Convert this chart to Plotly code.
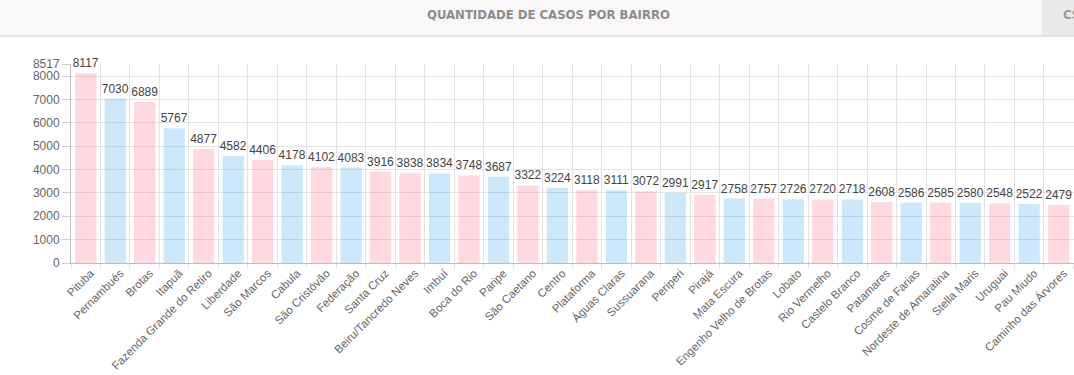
import plotly.graph_objects as go

# ---- data ----
bairros = ["Pituba", "Pernambués", "Brotas", "Itapuã", "Fazenda Grande do Retiro",
           "Liberdade", "São Marcos", "Cabula", "São Cristóvão", "Federação",
           "Santa Cruz", "Beiru/Tancredo Neves", "Imbuí", "Boca do Rio", "Paripe",
           "São Caetano", "Centro", "Plataforma", "Águas Claras", "Sussuarana",
           "Periperi", "Pirajá", "Mata Escura", "Engenho Velho de Brotas", "Lobato",
           "Rio Vermelho", "Castelo Branco", "Patamares", "Cosme de Farias",
           "Nordeste de Amaralina", "Stella Maris", "Uruguai", "Pau Miudo",
           "Caminho das Árvores"]
casos = [8117, 7030, 6889, 5767, 4877, 4582, 4406, 4178, 4102, 4083, 3916, 3838,
         3834, 3748, 3687, 3322, 3224, 3118, 3111, 3072, 2991, 2917, 2758, 2757,
         2726, 2720, 2718, 2608, 2586, 2585, 2580, 2548, 2522, 2479]
grupo = ["r", "a", "r", "a", "r", "a", "r", "a", "r", "a", "r", "r", "a", "r", "a",
         "r", "a", "r", "a", "r", "a", "r", "a", "r", "a", "r", "a", "r", "a", "r",
         "a", "r", "a", "r"]
proximo_bairro = "Piatã"
y_ticks = [0, 1000, 2000, 3000, 4000, 5000, 6000, 7000, 8000, 8517]
titulo = "QUANTIDADE DE CASOS POR BAIRRO"

# ---- style ----
W, H = 1074, 375
L, T, B = 71, 64, 112
PW, PH = W - L, H - T - B
PINK = "rgba(255,99,132,0.25)"
BLUE = "rgba(54,162,235,0.25)"
FONT = "Liberation Sans, Arial, sans-serif"
x_range = [-0.5, 33.52]
LABEL_SHIFT = 5


def px(xp):
    return (xp - L) / PW


def py(yp):
    return (T + PH - yp) / PH


cores = [PINK if g == "r" else BLUE for g in grupo]

fig = go.Figure()
fig.add_trace(go.Bar(
    x=bairros, y=casos,
    marker=dict(color=cores, line=dict(width=0)),
    texttemplate="%{y}", textposition="outside",
    textfont=dict(family=FONT, size=12, color="#444"),
    constraintext="none", cliponaxis=False,
    hoverinfo="x+y",
))

fig.update_layout(
    width=W, height=H,
    margin=dict(l=L, r=0, t=T, b=B, pad=0, autoexpand=False),
    paper_bgcolor="white", plot_bgcolor="white",
    bargap=0.28, showlegend=False,
    font=dict(family=FONT, size=12, color="#666"),
    xaxis=dict(
        type="category", range=x_range, tickson="boundaries",
        tickangle=-45, showgrid=True, gridcolor="#e3e3e3", gridwidth=1,
        ticks="outside", ticklen=5, tickcolor="#e3e3e3",
        ticklabelshift=LABEL_SHIFT, ticklabelstandoff=-2,
        showline=True, linecolor="#bdbdbd", linewidth=1,
        tickfont=dict(family=FONT, size=11.5, color="#666"),
        fixedrange=True, automargin=False,
    ),
    yaxis=dict(
        range=[0, 8517], tickvals=y_ticks, ticktext=[str(v) for v in y_ticks],
        showgrid=True, gridcolor="#e3e3e3", gridwidth=1,
        ticks="outside", ticklen=8, tickcolor="#cfcfcf",
        showline=True, linecolor="#bdbdbd", linewidth=1, zeroline=False,
        tickfont=dict(family=FONT, size=12, color="#666"),
        fixedrange=True, automargin=False,
    ),
)

# header bar
fig.add_shape(type="rect", xref="paper", yref="paper",
              x0=px(0), x1=px(W), y0=py(36), y1=py(0),
              fillcolor="#f9f7f7", line=dict(width=0), layer="above")
fig.add_shape(type="rect", xref="paper", yref="paper",
              x0=px(1042), x1=px(W), y0=py(36), y1=py(0),
              fillcolor="#e9e9e9", line=dict(width=0), layer="above")
fig.add_shape(type="line", xref="paper", yref="paper",
              x0=px(0), x1=px(W), y0=py(36), y1=py(36),
              line=dict(color="#dedede", width=1.5), layer="above")
fig.add_annotation(text=titulo, xref="paper", yref="paper",
                   x=px(548), y=py(15), xanchor="center", yanchor="middle",
                   showarrow=False,
                   font=dict(family="DejaVu Sans Condensed", size=13,
                             color="#8c8c8c", weight="bold"))
fig.add_annotation(text="CSV", xref="paper", yref="paper",
                   x=px(1061), y=py(15), xanchor="left", yanchor="middle",
                   showarrow=False,
                   font=dict(family="DejaVu Sans Condensed", size=13,
                             color="#9a9a9a", weight="bold"))

# partially visible next category label (cut off by the right edge)
span = x_range[1] - x_range[0]
fig.add_annotation(text=proximo_bairro, xref="paper", yref="paper",
                   x=(len(bairros) - x_range[0]) / span + (LABEL_SHIFT + 13) / PW,
                   y=py(268),
                   xanchor="right", yanchor="top", textangle=-45,
                   showarrow=False,
                   font=dict(family=FONT, size=11.5, color="#666"))

fig.write_html(
    "out.html", config=dict(displayModeBar=False),
    post_script="document.body.style.margin='0';"
                "document.body.style.overflow='hidden';",
)
